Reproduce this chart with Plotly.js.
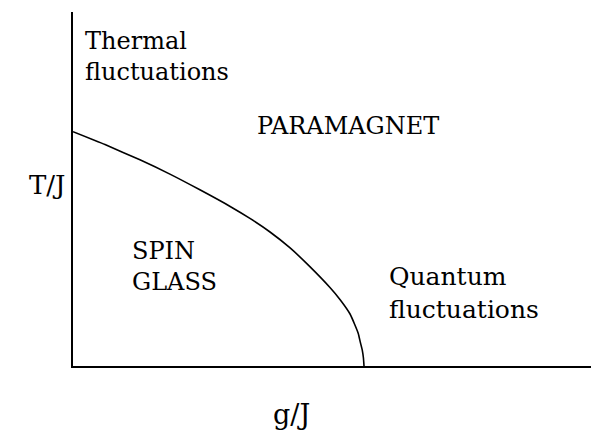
<!DOCTYPE html>
<html>
<head>
<meta charset="utf-8">
<script src="https://cdn.plot.ly/plotly-3.0.1.min.js"></script>
<style>html,body{margin:0;padding:0;background:#fff;}</style>
</head>
<body>
<div id="chart" style="width:591px;height:437px;"></div>
<script>
// Phase boundary T_c(g)/J versus g/J (units: g_c = 1, T_c(0) = 1)
var gValues = [0, 0.110, 0.230, 0.333, 0.436, 0.540, 0.608, 0.677, 0.746, 0.814, 0.883, 0.918, 0.952, 0.980, 0.987, 0.994, 0.998, 1.0];
var tValues = [1.0, 0.945, 0.880, 0.819, 0.752, 0.681, 0.630, 0.572, 0.504, 0.424, 0.335, 0.283, 0.222, 0.140, 0.103, 0.068, 0.034, 0.0];
var xRange = [0, 1.78];
var yRange = [0, 1.511];
var regionLabels = ["Thermal<br>fluctuations", "PARAMAGNET", "SPIN<br>GLASS", "Quantum<br>fluctuations"];
var axisLabels = ["g/J", "T/J"];

var font = {family: "DejaVu Serif", size: 24, color: "#000"};

var trace = {
  x: gValues, y: tValues, type: "scatter", mode: "lines",
  line: {color: "#000", width: 1.6, shape: "spline", smoothing: 0.5},
  hoverinfo: "skip", showlegend: false
};

var layout = {
  width: 591, height: 437,
  margin: {l: 73, r: 0, t: 12, b: 71},
  paper_bgcolor: "#fff", plot_bgcolor: "#fff",
  showlegend: false,
  font: {family: "DejaVu Serif", color: "#000"},
  xaxis: {range: xRange, showline: true, linecolor: "#000", linewidth: 2, showgrid: false,
          zeroline: false, showticklabels: false, ticks: "", fixedrange: true},
  yaxis: {range: yRange, showline: true, linecolor: "#000", linewidth: 2, showgrid: false,
          zeroline: false, showticklabels: false, ticks: "", fixedrange: true},
  annotations: [
    {text: regionLabels[0], xref: "paper", yref: "paper", x: 0.019, y: 0.873, xanchor: "left", yanchor: "middle", align: "left", showarrow: false, font: font},
    {text: regionLabels[1], xref: "paper", yref: "paper", x: 0.352, y: 0.678, xanchor: "left", yanchor: "middle", align: "left", showarrow: false, font: font},
    {text: regionLabels[2], xref: "paper", yref: "paper", x: 0.111, y: 0.282, xanchor: "left", yanchor: "middle", align: "left", showarrow: false, font: font},
    {text: regionLabels[3], xref: "paper", yref: "paper", x: 0.606, y: 0.206, xanchor: "left", yanchor: "middle", align: "left", showarrow: false, font: {family: "DejaVu Serif", size: 25, color: "#000"}},
    {text: axisLabels[1], xref: "paper", yref: "paper", x: -0.05, y: 0.511, xanchor: "center", yanchor: "middle", showarrow: false, font: {family: "DejaVu Serif", size: 26, color: "#000"}},
    {text: axisLabels[0], xref: "paper", yref: "paper", x: 0.421, y: -0.136, xanchor: "center", yanchor: "middle", showarrow: false, font: {family: "DejaVu Serif", size: 27, color: "#000"}}
  ]
};

Plotly.newPlot("chart", [trace], layout, {displayModeBar: false, staticPlot: true});
</script>
</body>
</html>
